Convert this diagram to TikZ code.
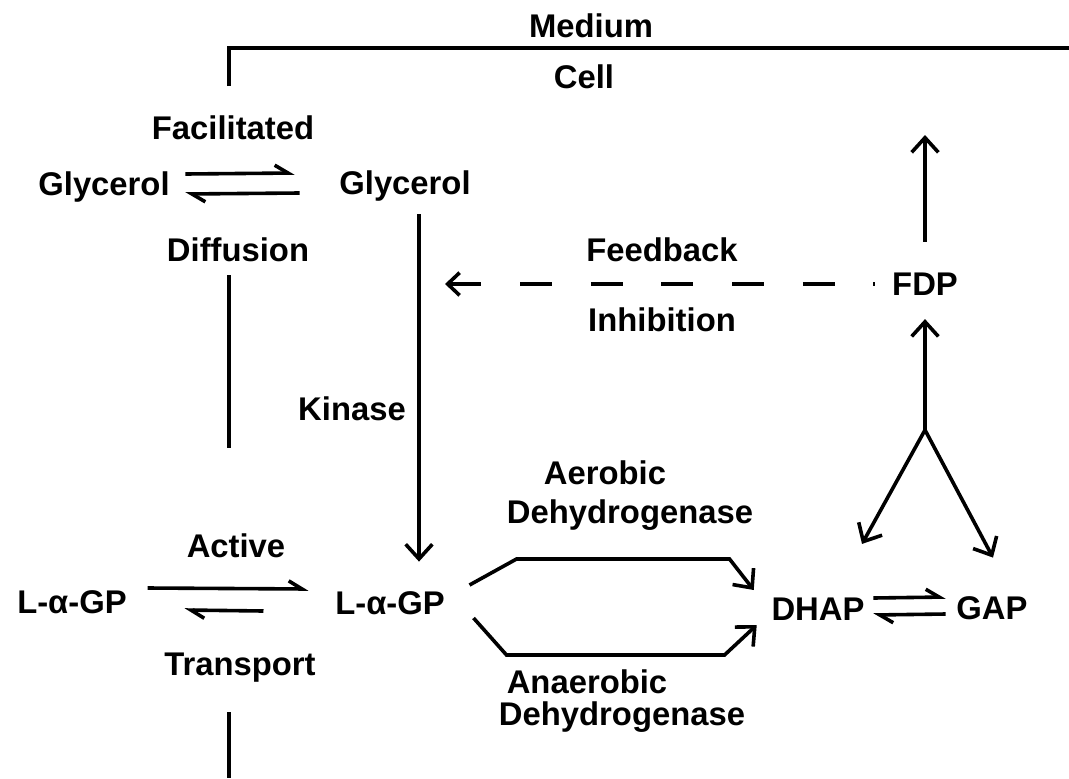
\documentclass[tikz,border=0pt]{standalone}
\usepackage{fontspec}
\setmainfont{Liberation Sans}
\usetikzlibrary{arrows.meta,calc}

\tikzset{every picture/.style={line width=2.7pt}}
\tikzset{
  lbl/.style={inner sep=0.75pt, font=\fontsize{24.6}{29}\selectfont\bfseries},
  arr/.style={-{Straight Barb[length=11pt,width=20pt]}},
  harp/.style={-{Straight Barb[left,length=10pt,width=12pt]}},
  fback/.style={{Straight Barb[length=9pt,width=17pt]}-, dash pattern={on 24pt off 29pt}},
}

\begin{document}
\begin{tikzpicture}[x=0.75pt,y=0.75pt,yscale=-1,xscale=1]
\useasboundingbox (0,0) rectangle (1069,778); %set diagram to the size of the scan

% Text Node
\node[lbl] (medium) at (591,26) {Medium};
% Text Node
\node[lbl] (cell) at (584,77) {Cell};
% Text Node
\node[lbl] (facil) at (233,128) {Facilitated};
% Text Node
\node[lbl] (glyout) at (104,187) {Glycerol};
% Text Node
\node[lbl] (glyin) at (405,186) {Glycerol};
% Text Node
\node[lbl] (diff) at (238,250) {Diffusion};
% Text Node
\node[lbl] (feedback) at (662,250) {Feedback};
% Text Node
\node[lbl] (fdp) at (925,284) {FDP};
% Text Node
\node[lbl] (inhib) at (662,320) {Inhibition};
% Text Node
\node[lbl] (kinase) at (352,409) {Kinase};
% Text Node
\node[lbl] (aerobic) at (605,473) {Aerobic};
% Text Node
\node[lbl] (aerodh) at (630,515) {Dehydrogenase};
% Text Node
\node[lbl] (active) at (236,546) {Active};
% Text Node
\node[lbl] (gpout) at (72,602) {L-α-GP};
% Text Node
\node[lbl] (gpin) at (390,603) {L-α-GP};
% Text Node
\node[lbl] (dhap) at (818,609) {DHAP};
% Text Node
\node[lbl] (gap) at (992,608) {GAP};
% Text Node
\node[lbl] (transp) at (240,668) {Transport};
% Text Node
\node[lbl] (anaer) at (587,682) {Anaerobic};
% Text Node
\node[lbl] (anaerdh) at (622,717) {Dehydrogenase};

\coordinate (fbtip) at (445,284);
\coordinate (out) at (925,135);
\coordinate (fork) at (925,430);

%Shape: membrane
\draw (229,86) -- (229,48) -- (1069,48);
\draw (229,275) -- (229,448);
\draw (229,712) -- (229,778);

%Straight Lines: glycerol exchange
\draw[harp] ($(glyout.east)+(13,-13)$) -- ($(glyin.west)+(-42,-13)$);
\draw[harp] ($(glyin.west)+(-37,7)$) -- ($(glyout.east)+(13,7)$);
%Straight Lines: kinase
\draw[arr] ($(glyin.south)+(14,10)$) -- ($(gpin.north)+(29,-27)$);
%Straight Lines: active transport
\draw[harp] ($(gpout.east)+(18,-14)$) -- ($(gpin.west)+(-24,-14)$);
\draw[harp] ($(gpin.west)+(-69,8)$) -- ($(gpout.east)+(55,8)$);
%Straight Lines: feedback inhibition
\draw[fback] (fbtip) -- ($(fdp.west)+(-14,0)$);
%Straight Lines: FDP
\draw[arr] ($(fdp.north)+(0,-28)$) -- (out);
\draw[arr] (fork) -- ($(fdp.south)+(0,21)$);
\draw[arr] (fork) -- ($(dhap.north)+(44,-51)$);
\draw[arr] (fork) -- ($(gap.north)+(1,-36)$);
%Straight Lines: dehydrogenases
\draw[arr] ($(gpin.east)+(22,-18)$) -- ++(47,-26) -- ++(213,0) -- ($(dhap.west)+(-15,-19)$);
\draw[arr] ($(gpin.east)+(26,15)$) -- ++(33,37) -- ++(218,0) -- ($(dhap.west)+(-12,16)$);
%Straight Lines: triose isomerase
\draw[harp] ($(dhap.east)+(6,-11)$) -- ($(gap.west)+(-8,-11)$);
\draw[harp] ($(gap.west)+(-8,6)$) -- ($(dhap.east)+(6,6)$);

\end{tikzpicture}
\end{document}
